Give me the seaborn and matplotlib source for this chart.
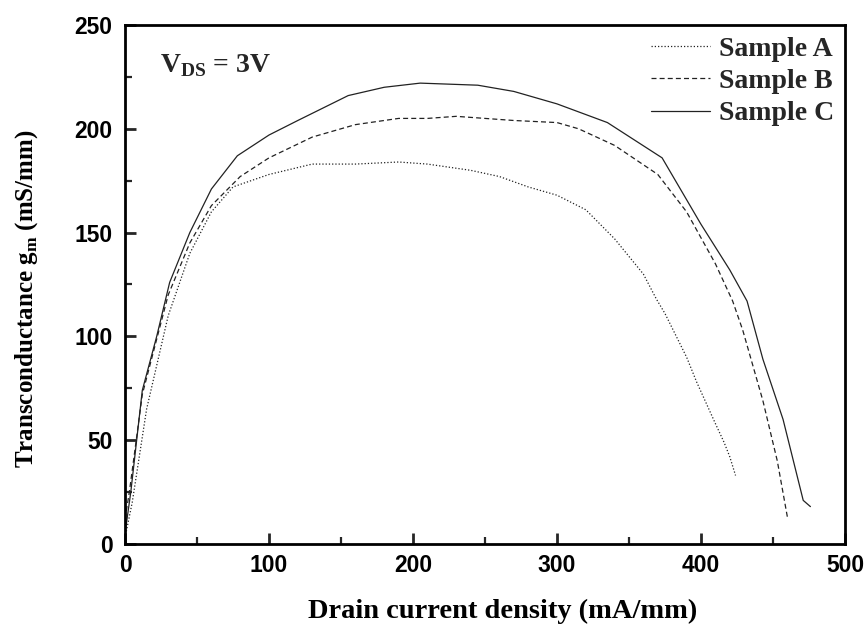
import matplotlib
matplotlib.use("Agg")
import matplotlib.pyplot as plt
import seaborn as sns
import pandas as pd
from matplotlib.ticker import MultipleLocator

# Data
a_x = [0, 5, 15, 30, 45, 60, 75, 100, 130, 160, 190, 210, 240, 260, 280, 300, 320, 340, 360, 369, 375, 390, 397, 410, 416, 420, 424]
a_y = [3, 20, 65, 110, 140, 160, 172, 178, 183, 183, 184, 183, 180, 177, 172, 168, 161, 147, 130, 118, 111, 90, 78, 58, 49, 42, 33]

b_x = [0, 3, 12, 30, 45, 60, 80, 100, 130, 160, 190, 210, 230, 250, 270, 300, 315, 340, 370, 390, 410, 422, 429, 443, 453, 460]
b_y = [12, 25, 72, 120, 145, 163, 177, 186, 196, 202, 205, 205, 206, 205, 204, 203, 200, 192, 178, 160, 135, 117, 103, 69, 40, 13]

c_x = [0, 4, 12, 22, 31, 45, 60, 78, 100, 120, 155, 180, 205, 245, 270, 300, 335, 373, 400, 420, 432, 443, 457, 471, 476]
c_y = [5, 25, 74, 100, 126, 150, 171, 187, 197, 204, 216, 220, 222, 221, 218, 212, 203, 186, 154, 132, 117, 89, 60, 21, 18]

labels = ["Sample A", "Sample B", "Sample C"]

sns.set_theme(style="ticks")
plt.rcParams["font.family"] = ["Liberation Sans", "DejaVu Sans"]

fig = plt.figure(figsize=(8.67, 6.28), dpi=100)
ax = fig.add_axes([0.1442, 0.1338, 0.8304, 0.8264])

styles = [(0, (1, 1.6)), (0, (4, 2.5)), "-"]
series = [(a_x, a_y), (b_x, b_y), (c_x, c_y)]
for (xs, ys), lab, ls in zip(series, labels, styles):
    df = pd.DataFrame({"x": xs, "y": ys})
    sns.lineplot(data=df, x="x", y="y", ax=ax, color="#222222", linewidth=0.9,
                 linestyle=ls, sort=False, estimator=None, label=lab)

ax.set_xlim(0, 500)
ax.set_ylim(0, 250)
ax.xaxis.set_major_locator(MultipleLocator(100))
ax.xaxis.set_minor_locator(MultipleLocator(50))
ax.yaxis.set_major_locator(MultipleLocator(50))
ax.yaxis.set_minor_locator(MultipleLocator(25))
ax.tick_params(which="major", direction="in", length=8, width=2, top=False, right=False,
               labelsize=16.5, labelcolor="black")
ax.tick_params(axis="x", which="major", pad=7)
ax.tick_params(axis="y", which="major", pad=9)
ax.tick_params(which="minor", direction="in", length=5, width=1.6, top=False, right=False)
for lab in ax.get_xticklabels() + ax.get_yticklabels():
    lab.set_fontweight("bold")
for sp in ax.spines.values():
    sp.set_linewidth(2)
    sp.set_color("black")

serif = ["Liberation Serif", "DejaVu Serif"]
ax.set_xlabel("Drain current density (mA/mm)", fontsize=20.5, fontweight="bold",
              family=serif, color="black", va="center")
ax.xaxis.set_label_coords(0.524, -0.13)
ax.set_ylabel("Transconductance g$_{\\mathregular{m}}$ (mS/mm)", fontsize=18, fontweight="bold",
              family=serif, color="black", va="center")
ax.yaxis.set_label_coords(-0.137, 0.472)

ax.text(0.049, 0.909, "V$_{\\mathregular{DS}}$ = 3V", transform=ax.transAxes, fontsize=20,
        fontweight="bold", family=serif, ha="left", va="baseline")

leg = ax.legend(loc="upper right", bbox_to_anchor=(1.0, 1.0), frameon=False,
                handlelength=2.15, handletextpad=0.3, borderpad=0.2,
                borderaxespad=0.2, labelspacing=0.25,
                prop={"family": serif, "weight": "bold", "size": 20})

fig.savefig("out.png", dpi=100)
